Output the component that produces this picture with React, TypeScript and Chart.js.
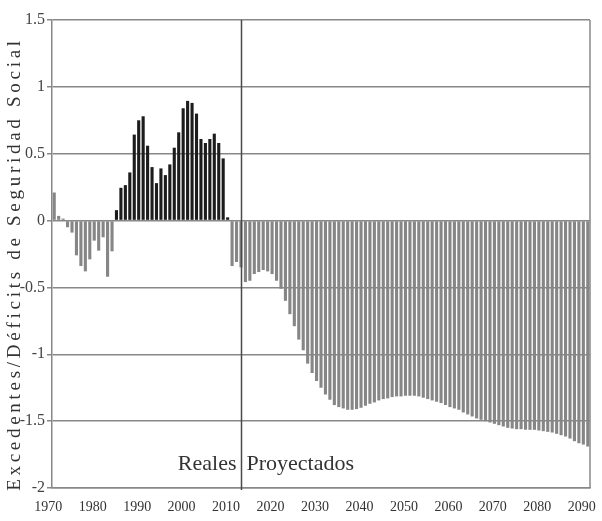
import React, { useEffect, useRef } from "react";
import { Chart, registerables } from "chart.js";

Chart.register(...registerables);

const firstYear = 1970;
const lastYear = 2090;
const darkFrom = 1984;
const darkTo = 2009;
const dividerYear = 2012;

// 1970-2009
const historicValues = [
  0.21, 0.035, 0.015, -0.05, -0.09, -0.26, -0.34, -0.38, -0.29, -0.15,
  -0.225, -0.125, -0.42, -0.23, 0.078, 0.245, 0.265, 0.36, 0.643, 0.75,
  0.78, 0.56, 0.4, 0.28, 0.39, 0.34, 0.42, 0.545, 0.66, 0.84,
  0.895, 0.88, 0.8, 0.61, 0.58, 0.61, 0.65, 0.58, 0.465, 0.024,
];

// 2010-2090
const projectedValues = [
  -0.34, -0.31, -0.35, -0.46, -0.45, -0.4, -0.385, -0.37, -0.38, -0.4,
  -0.45, -0.51, -0.6, -0.7, -0.79, -0.89, -0.97, -1.07, -1.14, -1.2,
  -1.25, -1.3, -1.34, -1.38, -1.395, -1.405, -1.415, -1.415, -1.41, -1.4,
  -1.385, -1.37, -1.36, -1.345, -1.335, -1.33, -1.32, -1.315, -1.315, -1.31,
  -1.31, -1.31, -1.315, -1.325, -1.335, -1.345, -1.355, -1.365, -1.38, -1.395,
  -1.405, -1.415, -1.435, -1.45, -1.465, -1.48, -1.49, -1.5, -1.51, -1.52,
  -1.53, -1.54, -1.55, -1.555, -1.56, -1.56, -1.565, -1.565, -1.565, -1.57,
  -1.575, -1.58, -1.585, -1.595, -1.605, -1.615, -1.63, -1.65, -1.665, -1.675,
  -1.69,
];

const yTicks = [-2, -1.5, -1, -0.5, 0, 0.5, 1, 1.5];
const yTitle = "Excedentes/Déficits de Seguridad Social";
const leftNote = "Reales";
const rightNote = "Proyectados";

const years: number[] = [];
for (let y = firstYear; y <= lastYear; y++) years.push(y);

const FONT = '"Liberation Serif", "DejaVu Serif", serif';

const overlayPlugin = {
  id: "overlay",
  afterDraw(chart: any) {
    const { ctx, chartArea, scales } = chart;
    const x = scales.x;
    ctx.save();
    // right border
    ctx.strokeStyle = "#888";
    ctx.lineWidth = 1.5;
    ctx.beginPath();
    ctx.moveTo(chartArea.right, chartArea.top);
    ctx.lineTo(chartArea.right, chartArea.bottom);
    ctx.stroke();
    // divider
    const dx = Math.round(x.getPixelForValue(years.indexOf(dividerYear))) + 0.5;
    ctx.strokeStyle = "#4a4a4a";
    ctx.lineWidth = 1.5;
    ctx.beginPath();
    ctx.moveTo(dx, chartArea.top);
    ctx.lineTo(dx, chartArea.bottom + 2);
    ctx.stroke();
    // notes
    ctx.fillStyle = "#333";
    ctx.font = "22px " + FONT;
    ctx.textBaseline = "middle";
    ctx.textAlign = "right";
    ctx.fillText(leftNote, dx - 5, 464);
    ctx.textAlign = "left";
    ctx.fillText(rightNote, dx + 5, 464);
    // y title
    ctx.font = "19px " + FONT;
    const w0 = ctx.measureText(yTitle).width;
    const spacing = Math.max(0, (450 - w0) / (yTitle.length - 1));
    (ctx as any).letterSpacing = spacing.toFixed(2) + "px";
    ctx.translate(15, 264);
    ctx.rotate(-Math.PI / 2);
    ctx.textAlign = "center";
    ctx.textBaseline = "middle";
    ctx.fillStyle = "#333";
    ctx.fillText(yTitle, 0, 0);
    ctx.restore();
  },
};

export default function App() {
  const ref = useRef<HTMLCanvasElement>(null);
  useEffect(() => {
    const values = [...historicValues, ...projectedValues];
    const colors = years.map((y) => (y >= darkFrom && y <= darkTo ? "#1c1c1c" : "#868686"));
    const chart = new Chart(ref.current!, {
      type: "bar",
      data: {
        labels: years.map(String),
        datasets: [
          {
            data: values,
            backgroundColor: colors,
            borderWidth: 0,
            barPercentage: 0.7,
            categoryPercentage: 1,
          },
        ],
      },
      options: {
        responsive: false,
        animation: false,
        layout: { padding: { top: 20, right: 12, left: 0, bottom: 0 } },
        plugins: { legend: { display: false }, tooltip: { enabled: false } },
        scales: {
          x: {
            grid: { display: false },
            border: { color: "#888", width: 1.5 },
            ticks: {
              autoSkip: false,
              maxRotation: 0,
              minRotation: 0,
              color: "#333",
              font: { family: FONT, size: 14 },
              padding: 3,
              labelOffset: -6,
              callback: (_v: any, i: number) => (years[i] % 10 === 0 ? String(years[i]) : ""),
            },
            afterFit: (s: any) => {
              s.height = 33;
              s.paddingLeft = 0;
              s.paddingRight = 0;
            },
          },
          y: {
            min: -2,
            max: 1.5,
            afterBuildTicks: (s: any) => {
              s.ticks = yTicks.map((v) => ({ value: v }));
            },
            grid: { color: "#888", lineWidth: 1.5, tickLength: 5 },
            border: { color: "#888", width: 1.5 },
            ticks: {
              color: "#444",
              font: { family: FONT, size: 16 },
              padding: 2,
              callback: (v: any) => String(v),
            },
            afterFit: (s: any) => {
              s.width = 52;
              s.paddingTop = 0;
              s.paddingBottom = 0;
            },
          },
        },
      },
      plugins: [overlayPlugin],
    });
    return () => chart.destroy();
  }, []);
  return (
    <div style={{ position: "absolute", left: 0, top: 0, width: 602, height: 521, background: "#fff" }}>
      <canvas ref={ref} width={602} height={521} />
    </div>
  );
}
